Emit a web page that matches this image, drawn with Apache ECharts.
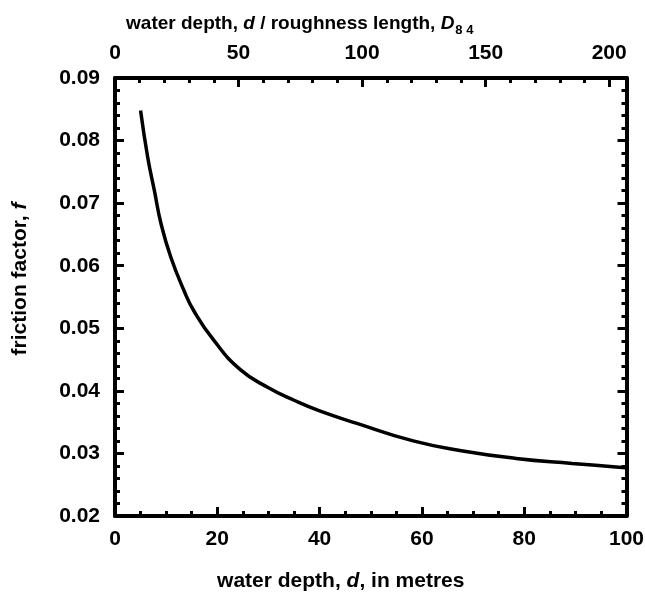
<!DOCTYPE html>
<html>
<head>
<meta charset="utf-8">
<title>friction factor vs water depth</title>
<script src="https://cdn.jsdelivr.net/npm/echarts@6/dist/echarts.min.js"></script>
<style>
    html, body { margin: 0; padding: 0; background: #fff; }
    #frictionChart { width: 645px; height: 592px; }
</style>
</head>
<body>
<div id="frictionChart"></div>
<script>
// values
var depth = [5, 6.4, 7.7, 9, 10.9, 13.5, 15.4, 19.3, 24.5, 30, 35, 40, 47.3, 58.3, 68, 78.4, 89.4, 98.5, 100];
var friction = [0.0848, 0.0773, 0.0720, 0.0667, 0.0614, 0.0560, 0.0528, 0.0481, 0.0434, 0.0405, 0.0385, 0.0368, 0.0348, 0.0320, 0.0304, 0.0292, 0.0284, 0.0278, 0.0277];

var depthTicks = [0, 100, 20];        // min, max, interval (bottom)
var relDepthTicks = [0, 207, 50];     // min, max, interval (top, d / D84)
var frictionTicks = [0.02, 0.09, 0.01];

var fontName = "'Liberation Sans', Arial, Helvetica, sans-serif";

var frictionChart = echarts.init(document.getElementById('frictionChart'));
drawFrictionChart();

function axisLineStyle() {
    return {show: true, onZero: false, lineStyle: {color: '#000', width: 4}};
}

function labelStyle(margin) {
    return {
        show: true,
        margin: margin,
        color: '#000',
        fontFamily: fontName,
        fontWeight: 'bold',
        fontSize: 21
    };
}

function drawFrictionChart() {
    var points = [];
    for (var i = 0; i < depth.length; i++) {
        points.push([depth[i], friction[i]]);
    }

    var option = {
        animation: false,
        backgroundColor: '#fff',
        grid: {left: 115, right: 18.5, top: 78, bottom: 76, containLabel: false, outerBoundsMode: 'none'},
        xAxis: [
            {
                // bottom: water depth in metres
                type: 'value',
                position: 'bottom',
                min: depthTicks[0],
                max: depthTicks[1],
                interval: depthTicks[2],
                axisLine: axisLineStyle(),
                axisTick: {show: true, inside: true, length: 9, lineStyle: {color: '#000', width: 3}},
                minorTick: {show: true, splitNumber: 4, length: 5, lineStyle: {color: '#000', width: 3}},
                axisLabel: labelStyle(13),
                splitLine: {show: false},
                name: '{n|water depth, }{i|d}{n|, in metres}',
                nameLocation: 'middle',
                nameGap: 55,
                nameTextStyle: {
                    padding: [0, 60, 0, 0],
                    rich: {
                        n: {fontFamily: fontName, fontWeight: 'bold', fontSize: 21, color: '#000'},
                        i: {fontFamily: fontName, fontWeight: 'bold', fontStyle: 'italic', fontSize: 21, color: '#000'}
                    }
                }
            },
            {
                // top: relative depth, labels and long ticks
                type: 'value',
                position: 'top',
                min: relDepthTicks[0],
                max: relDepthTicks[1],
                interval: relDepthTicks[2],
                axisLine: axisLineStyle(),
                axisTick: {show: true, inside: true, length: 9, lineStyle: {color: '#000', width: 3}},
                axisLabel: Object.assign(labelStyle(14), {showMaxLabel: false}),
                splitLine: {show: false},
                name: '{n|water depth, }{i|d}{n| / roughness length, }{i|D}{s|8 4}',
                nameLocation: 'middle',
                nameGap: 42,
                nameTextStyle: {
                    padding: [0, 142, 0, 0],
                    rich: {
                        n: {fontFamily: fontName, fontWeight: 'bold', fontSize: 19, lineHeight: 24, color: '#000'},
                        i: {fontFamily: fontName, fontWeight: 'bold', fontStyle: 'italic', fontSize: 19, lineHeight: 24, color: '#000'},
                        s: {fontFamily: fontName, fontWeight: 'bold', fontSize: 13, lineHeight: 12, padding: [12, 0, 0, 1], color: '#000'}
                    }
                }
            },
            {
                // top: short ticks every 10
                type: 'value',
                position: 'top',
                min: relDepthTicks[0],
                max: relDepthTicks[1],
                interval: 10,
                axisLine: {show: false, onZero: false},
                axisTick: {show: true, inside: true, length: 5, lineStyle: {color: '#000', width: 3}},
                axisLabel: {show: false},
                splitLine: {show: false}
            }
        ],
        yAxis: [
            {
                type: 'value',
                position: 'left',
                min: frictionTicks[0],
                max: frictionTicks[1],
                interval: frictionTicks[2],
                axisLine: axisLineStyle(),
                axisTick: {show: true, inside: true, length: 9, lineStyle: {color: '#000', width: 3}},
                minorTick: {show: true, splitNumber: 5, length: 5, lineStyle: {color: '#000', width: 3}},
                axisLabel: Object.assign(labelStyle(15), {
                    formatter: function (v) { return v.toFixed(2); }
                }),
                splitLine: {show: false},
                name: '{n|friction factor, }{i|f}',
                nameLocation: 'middle',
                nameGap: 84,
                nameTextStyle: {
                    padding: [0, 0, 0, 36],
                    rich: {
                        n: {fontFamily: fontName, fontWeight: 'bold', fontSize: 21, color: '#000'},
                        i: {fontFamily: fontName, fontWeight: 'bold', fontStyle: 'italic', fontSize: 21, color: '#000'}
                    }
                }
            },
            {
                type: 'value',
                position: 'right',
                min: frictionTicks[0],
                max: frictionTicks[1],
                interval: frictionTicks[2],
                axisLine: axisLineStyle(),
                axisTick: {show: true, inside: true, length: 9, lineStyle: {color: '#000', width: 3}},
                minorTick: {show: true, splitNumber: 5, length: 5, lineStyle: {color: '#000', width: 3}},
                axisLabel: {show: false},
                splitLine: {show: false}
            }
        ],
        series: [
            {
                name: 'friction factor',
                type: 'line',
                xAxisIndex: 0,
                yAxisIndex: 0,
                smooth: true,
                showSymbol: false,
                symbol: 'none',
                lineStyle: {color: '#000', width: 3.5},
                data: points
            }
        ]
    };
    frictionChart.setOption(option);
}
</script>
</body>
</html>
